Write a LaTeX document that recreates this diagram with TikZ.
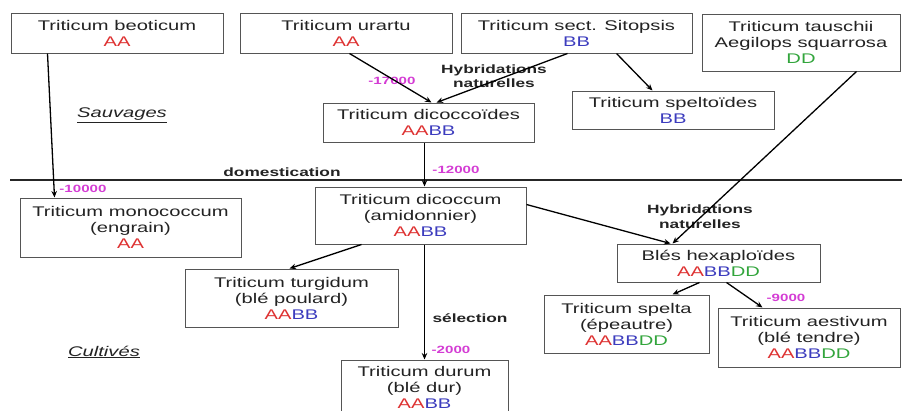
\documentclass[tikz,border=0pt]{standalone}
\usepackage{fontspec}
\setmainfont{Liberation Sans}[FakeStretch=1.44]
\usetikzlibrary{arrows.meta}
\definecolor{cA}{RGB}{222,50,50}
\definecolor{cB}{RGB}{60,60,190}
\definecolor{cD}{RGB}{50,165,60}
\definecolor{cM}{RGB}{212,60,212}
\definecolor{boxgray}{RGB}{85,85,85}
\definecolor{txt}{RGB}{35,35,35}
\newcommand{\gA}{\textcolor{cA}{AA}}
\newcommand{\gB}{\textcolor{cB}{BB}}
\newcommand{\gD}{\textcolor{cD}{DD}}
\tikzset{
  box/.style={draw=boxgray, line width=1pt, align=center, inner sep=0pt,
    text=txt, font=\fontsize{14pt}{16pt}\selectfont},
  conn/.style={line width=1.3pt, -{Stealth[length=6.5pt,width=5.5pt]}},
  date/.style={text=cM, font=\bfseries\fontsize{10.5pt}{12pt}\selectfont, inner sep=0pt},
  lab/.style={text=txt, font=\bfseries\fontsize{12pt}{14.5pt}\selectfont, align=center, inner sep=0pt},
  zone/.style={text=txt, font=\itshape\fontsize{14pt}{16pt}\selectfont, inner sep=0pt}
}
\begin{document}
\begin{tikzpicture}[x=1pt,y=-1pt]
\useasboundingbox (0,0) rectangle (902,410);
\fill[white] (0,0) rectangle (902,410);
% separator
\draw[line width=1.3pt, black!85] (10,180) -- (902,180);
% boxes
\node[box, minimum width=212pt, minimum height=40pt] (beo) at (117,33) {Triticum beoticum\\\gA};
\node[box, minimum width=212pt, minimum height=40pt] (ura) at (346,33) {Triticum urartu\\\gA};
\node[box, minimum width=231pt, minimum height=40pt] (sit) at (576.5,33) {Triticum sect. Sitopsis\\\gB};
\node[box, minimum width=198pt, minimum height=57pt] (tau) at (801,42.5) {Triticum tauschii\\Aegilops squarrosa\\\gD};
\node[box, minimum width=211pt, minimum height=39pt] (dcd) at (428.5,122.5) {Triticum dicoccoïdes\\\gA\gB};
\node[box, minimum width=202pt, minimum height=38pt] (spd) at (673,110) {Triticum speltoïdes\\\gB};
\node[box, minimum width=221pt, minimum height=59pt] (mon) at (130.5,227.5) {Triticum monococcum\\(engrain)\\\gA};
\node[box, minimum width=211pt, minimum height=57pt] (dcm) at (420.5,215.5) {Triticum dicoccum\\(amidonnier)\\\gA\gB};
\node[box, minimum width=213pt, minimum height=58pt] (tur) at (291.5,298) {Triticum turgidum\\(blé poulard)\\\gA\gB};
\node[box, minimum width=167pt, minimum height=54pt] (dur) at (424.5,387) {Triticum durum\\(blé dur)\\\gA\gB};
\node[box, minimum width=203pt, minimum height=38pt] (hex) at (718.5,263) {Blés hexaploïdes\\\gA\gB\gD};
\node[box, minimum width=165pt, minimum height=58pt] (spa) at (626.5,324) {Triticum spelta\\(épeautre)\\\gA\gB\gD};
\node[box, minimum width=182pt, minimum height=59pt] (aes) at (809,337.5) {Triticum aestivum\\(blé tendre)\\\gA\gB\gD};
% labels
\node[zone] (sauv) at (122,115) {\underline{Sauvages}};
\node[zone] (cult) at (104,352) {\underline{Cultivés}};
\node[lab] (dom) at (282,172) {domestication};
\node[lab] (hyb1) at (494,76) {Hybridations\\naturelles};
\node[lab] (hyb2) at (700,216.5) {Hybridations\\naturelles};
\node[lab] (sel) at (470,318) {sélection};
\node[date] (d17) at (392,81) {-17000};
\node[date] (d12) at (456,170) {-12000};
\node[date] (d10) at (83,189) {-10000};
\node[date] (d2) at (451,350) {-2000};
\node[date] (d9) at (786,298) {-9000};
% connectors
\draw[conn] ([xshift=37pt]beo.south west) -- ([xshift=35pt]mon.north west);
\draw[conn] ([xshift=110pt]ura.south west) -- ([xshift=109pt]dcd.north west);
\draw[conn] ([xshift=107pt]sit.south west) -- ([xshift=114pt]dcd.north west);
\draw[conn] ([xshift=156pt]sit.south west) -- ([xshift=81pt]spd.north west);
\draw[conn] ([xshift=102pt]dcd.south west) -- ([xshift=110pt]dcm.north west);
\draw[conn] ([xshift=155pt]tau.south west) -- ([xshift=56pt]hex.north west);
\draw[conn] ([yshift=-18pt]dcm.north east) -- ([xshift=54pt]hex.north west);
\draw[conn] ([xshift=47pt]dcm.south west) -- ([xshift=105pt]tur.north west);
\draw[conn] ([xshift=110pt]dcm.south west) -- ([xshift=84pt]dur.north west);
\draw[conn] ([xshift=83pt]hex.south west) -- ([xshift=129pt]spa.north west);
\draw[conn] ([xshift=110pt]hex.south west) -- ([xshift=45pt]aes.north west);
\end{tikzpicture}
\end{document}
